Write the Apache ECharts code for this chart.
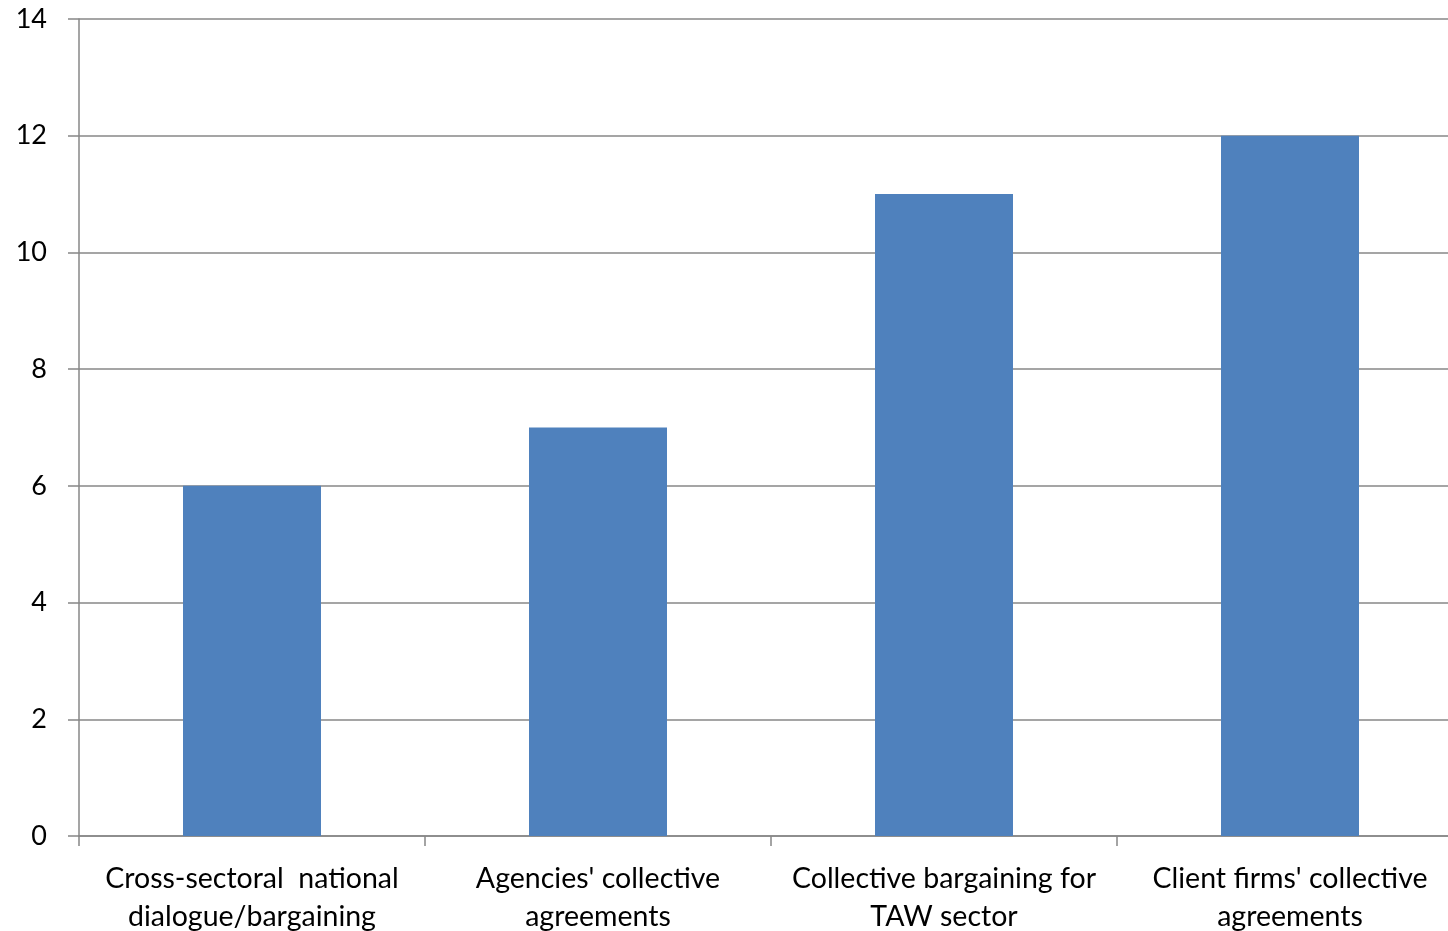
<!DOCTYPE html>
<html><head><meta charset="utf-8">
<script src="https://cdn.jsdelivr.net/npm/echarts@6/dist/echarts.min.js"></script>
<style>html,body{margin:0;padding:0;background:#fff;}#c{width:1448px;height:931px;}</style>
</head><body><div id="c"></div>
<script>
const categories = ["Cross-sectoral  national\ndialogue/bargaining", "Agencies' collective\nagreements", "Collective bargaining for\nTAW sector", "Client firms' collective\nagreements"];
const values = [6, 7, 11, 12];
const yTicks = {min: 0, max: 14, interval: 2};
const chart = echarts.init(document.getElementById('c'), null, {renderer: 'canvas'});
const font = 'Lato, "Open Sans", sans-serif';
chart.setOption({
  animation: false,
  grid: {left: 79, right: -15, top: 19, bottom: 95, containLabel: false, outerBoundsMode: 'none'},
  xAxis: {
    type: 'category', data: categories,
    axisLine: {show: true, lineStyle: {color: '#878787', width: 1.5}},
    axisTick: {show: true, length: 10, alignWithLabel: false, lineStyle: {color: '#878787', width: 1.5}},
    axisLabel: {color: '#000', fontSize: 28.5, fontFamily: font, lineHeight: 38, margin: 24, interval: 0}
  },
  yAxis: {
    type: 'value', min: yTicks.min, max: yTicks.max, interval: yTicks.interval,
    axisLine: {show: true, lineStyle: {color: '#878787', width: 1.5}},
    axisTick: {show: true, length: 11, lineStyle: {color: '#878787', width: 1.5}},
    axisLabel: {color: '#000', fontSize: 27, fontFamily: font, margin: 32},
    splitLine: {show: true, lineStyle: {color: '#878787', width: 1.5}}
  },
  series: [{type: 'bar', data: values, barWidth: 138, itemStyle: {color: '#4F81BD'}}]
});
</script></body></html>
